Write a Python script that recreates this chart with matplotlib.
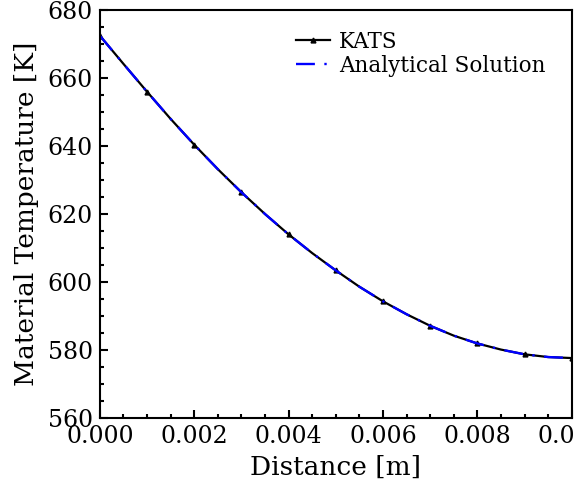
import matplotlib
matplotlib.use("Agg")
import matplotlib.pyplot as plt
from matplotlib.ticker import MultipleLocator

# Data
distance = [0.0, 0.0005, 0.001, 0.0015, 0.002, 0.0025, 0.003, 0.0035, 0.004, 0.0045,
            0.005, 0.0055, 0.006, 0.0065, 0.007, 0.0075, 0.008, 0.0085, 0.009, 0.0095, 0.010]
kats_temp = [672.5, 664.2, 656.0, 648.0, 640.4, 633.2, 626.4, 620.0, 614.0, 608.5,
             603.4, 598.6, 594.3, 590.5, 587.1, 584.2, 581.9, 580.1, 578.7, 577.9, 577.6]
analytical_temp = [672.5, 664.2, 656.0, 648.0, 640.4, 633.2, 626.4, 620.0, 614.0, 608.5,
                   603.4, 598.6, 594.3, 590.5, 587.1, 584.2, 581.9, 580.1, 578.7, 577.9, 577.6]

plt.rcParams['font.family'] = 'DejaVu Serif'

fig = plt.figure(figsize=(5.74, 4.87), dpi=100)
ax = fig.add_axes([0.174, 0.142, 0.822, 0.837])

ax.plot(distance, kats_temp, color='black', linewidth=1.6, marker='^', markersize=3.5,
        markevery=2, label='KATS')
ax.plot(distance, analytical_temp, color='blue', linewidth=1.7,
        linestyle=(0, (8, 4, 1, 4)), label='Analytical Solution')

ax.set_xlim(0, 0.010)
ax.set_ylim(560, 680)
ax.xaxis.set_major_locator(MultipleLocator(0.002))
ax.xaxis.set_minor_locator(MultipleLocator(0.0005))
ax.yaxis.set_major_locator(MultipleLocator(20))
ax.yaxis.set_minor_locator(MultipleLocator(5))
ax.xaxis.set_major_formatter(plt.FormatStrFormatter('%.3f'))

ax.tick_params(which='both', direction='in', top=False, right=False, labelsize=17, width=1.5)
ax.tick_params(which='major', length=6, pad=5)
ax.tick_params(which='minor', length=3)
for s in ax.spines.values():
    s.set_linewidth(1.5)

ax.set_xlabel('Distance [m]', fontsize=19, labelpad=5)
ax.set_ylabel('Material Temperature [K]', fontsize=19, labelpad=6)

ax.legend(loc='upper right', bbox_to_anchor=(0.985, 0.997), frameon=False, fontsize=15.5,
          handlelength=1.6, labelspacing=0.1, handletextpad=0.4)

fig.savefig('out.png', dpi=100)
